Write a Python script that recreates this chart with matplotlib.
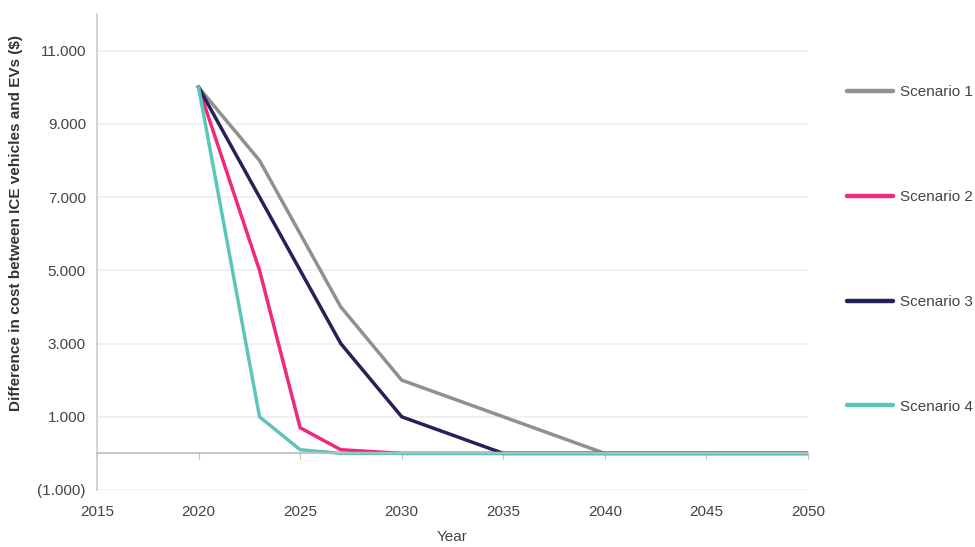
import matplotlib
matplotlib.use("Agg")
import matplotlib.pyplot as plt
from matplotlib.ticker import FuncFormatter

plt.rcParams['font.family'] = ['Liberation Sans', 'DejaVu Sans']

years = [2020, 2023, 2025, 2027, 2030, 2035, 2040, 2045, 2050]
scenario1 = [10000, 8000, 6000, 4000, 2000, 1000, 0, 0, 0]
scenario2 = [10000, 5000, 700, 100, 0, 0, 0, 0, 0]
scenario3 = [10000, 7000, 5000, 3000, 1000, 0, 0, 0, 0]
scenario4 = [10000, 1000, 100, 0, 0, 0, 0, 0, 0]

names = ["Scenario 1", "Scenario 2", "Scenario 3", "Scenario 4"]
colors = ["#8e9190", "#ee2a7b", "#24225a", "#5cc6bb"]
yticks = [-1000, 1000, 3000, 5000, 7000, 9000, 11000]
xticks = [2015, 2020, 2025, 2030, 2035, 2040, 2045, 2050]


def fmt(v, pos):
    s = "{:,.0f}".format(abs(v)).replace(",", ".")
    return "(" + s + ")" if v < 0 else s


fig = plt.figure(figsize=(9.75, 5.47), dpi=100)
ax = fig.add_axes([97 / 975, 1 - 490 / 547, (808 - 97) / 975, (490 - 14) / 547])

for s, name, c in zip([scenario1, scenario2, scenario3, scenario4], names, colors):
    ax.plot(years, s, color=c, lw=2.5, label=name, solid_joinstyle="miter")

ax.set_xlim(2015, 2050)
ax.set_ylim(-1000, 12000)
ax.set_yticks(yticks)
ax.set_xticks(xticks)
ax.yaxis.set_major_formatter(FuncFormatter(fmt))
ax.grid(axis="y", color="#eeeeee", lw=1.2)
ax.set_axisbelow(True)

for side in ["top", "right"]:
    ax.spines[side].set_visible(False)
ax.spines["left"].set_color("#cccccc")
ax.spines["left"].set_linewidth(1.2)
ax.spines["bottom"].set_position(("data", 0))
ax.spines["bottom"].set_color("#bbbbbb")
ax.spines["bottom"].set_linewidth(1.2)

ax.tick_params(axis="y", length=0, labelsize=11, labelcolor="#444444", pad=8)
ax.tick_params(axis="x", length=4, color="#bbbbbb", labelsize=11,
               labelcolor="#444444", pad=33)

ax.set_ylabel("Difference in cost between ICE vehicles and EVs ($)",
              fontsize=11, fontweight="bold", color="#333333", labelpad=10)
ax.yaxis.label.set_y(0.561)
ax.set_xlabel("Year", fontsize=11, color="#444444", labelpad=8)

leg = fig.legend(loc="upper left", bbox_to_anchor=(841 / 975, 1 - 79 / 547),
                 frameon=False, fontsize=11, labelspacing=5.95,
                 handlelength=3.0, handletextpad=0.45, borderaxespad=0)
for t in leg.get_texts():
    t.set_color("#444444")
for l in leg.get_lines():
    l.set_linewidth(3.2)
    l.set_solid_capstyle("round")

fig.savefig("out.png", dpi=100)
